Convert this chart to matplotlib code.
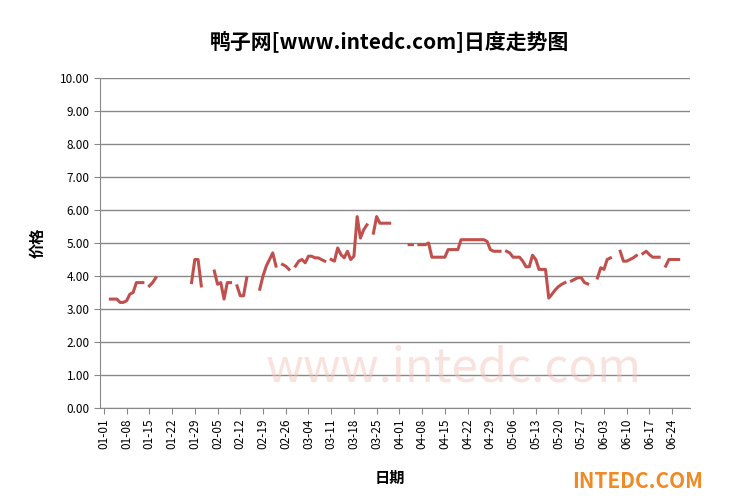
import numpy as np
import pandas as pd
import matplotlib
matplotlib.use("Agg")
import matplotlib.pyplot as plt

plt.rcParams['font.family'] = ['Noto Sans CJK SC', 'DejaVu Sans']

N = float('nan')
start_date = "2024-01-01"
prices = [
 N, N, 3.3, 3.3, 3.3, 3.2, 3.2, 3.25, 3.45, 3.5, 3.8, 3.8, 3.8, N, 3.7, 3.8, 3.95, N, N, N,
 N, N, N, N, N, N, N, 3.8, 4.5, 4.5, 3.7, N, N, N, 4.15, 3.75, 3.8, 3.3, 3.8, 3.8,
 N, 3.7, 3.4, 3.4, 3.95, N, N, N, 3.6, 4.0, 4.3, 4.5, 4.7, 4.3, N, 4.35, 4.3, 4.2, N, 4.3,
 4.45, 4.5, 4.4, 4.6, 4.6, 4.55, 4.55, 4.5, 4.45, N, 4.5, 4.45, 4.85, 4.65, 4.55, 4.75, 4.5, 4.6, 5.8, 5.15,
 5.4, 5.55, N, 5.3, 5.8, 5.6, 5.6, 5.6, 5.6, N, N, N, N, N, 4.95, 4.95, N, 4.95, 4.95, 4.95,
 5.0, 4.57, 4.57, 4.57, 4.57, 4.57, 4.8, 4.8, 4.8, 4.8, 5.1, 5.1, 5.1, 5.1, 5.1, 5.1, 5.1, 5.1, 5.05, 4.8,
 4.75, 4.75, 4.75, N, 4.75, 4.7, 4.57, 4.57, 4.57, 4.45, 4.28, 4.28, 4.63, 4.5, 4.2, 4.2, 4.2, 3.33, 3.45, 3.58,
 3.68, 3.75, 3.8, N, 3.85, 3.9, 3.95, 3.95, 3.8, 3.76, N, N, 3.94, 4.25, 4.2, 4.5, 4.55, N, N, 4.75,
 4.45, 4.45, 4.5, 4.55, 4.62, N, 4.68, 4.75, 4.65, 4.57, 4.57, 4.57, N, 4.3, 4.5, 4.5, 4.5, 4.5,
]
dates = pd.date_range(start_date, periods=len(prices), freq="D")
x = np.arange(len(prices))

fig = plt.figure(figsize=(7.30, 5.03), dpi=100)
ax = fig.add_axes([100/730, 1-408/503, 590/730, 330/503])
ax.plot(x, prices, color='#C0504D', lw=2.2, zorder=3)

ax.set_xlim(-1.2, 180.5)
ax.set_ylim(0, 10)
ax.set_yticks(np.arange(0, 10.01, 1))
ax.set_yticklabels([f"{v:.2f}" for v in np.arange(0, 10.01, 1)], fontsize=8.5)
ticks = np.arange(0, len(prices), 7)
ax.set_xticks(ticks)
ax.set_xticklabels([dates[i].strftime("%m-%d") for i in ticks], rotation=90, fontsize=8.5)
ax.grid(axis='y', color='#888888', lw=1)
ax.set_axisbelow(True)
for s in ['top', 'right']:
    ax.spines[s].set_visible(False)
ax.spines['left'].set_color('#888888')
ax.spines['bottom'].set_color('#888888')
ax.tick_params(axis='both', color='#888888', length=4)

fig.text(390/730, 1-478/503, "日期", ha='center', va='center', fontsize=11, fontweight='bold')
ax.set_ylabel("价格", fontsize=11, fontweight='bold', labelpad=10)
fig.text(390/730, 1-42/503, "鸭子网[www.intedc.com]日度走势图", ha='center', va='center',
         fontsize=15, fontweight='bold')
ax.text(0.6, 0.12, "www.intedc.com", transform=ax.transAxes, ha='center', va='center',
        fontsize=34, color='#F4C6BC', alpha=0.5, zorder=1)
fig.text(638/730, 1-481/503, "INTEDC.COM", ha='center', va='center', fontsize=15,
         fontweight='bold', color='#F08A24')
fig.savefig("out.png", dpi=100, facecolor='white')
